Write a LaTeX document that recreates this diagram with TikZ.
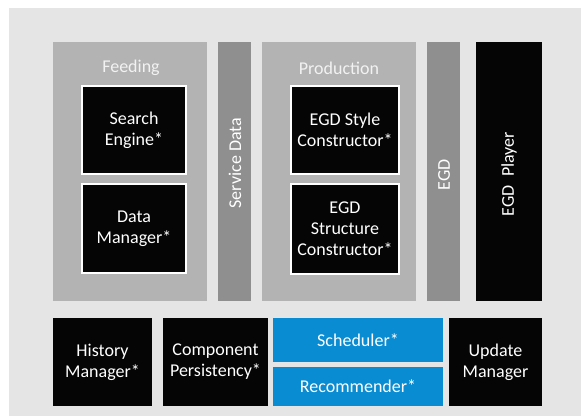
\documentclass[tikz,border=0pt]{standalone}
\usepackage{fontspec}
\setmainfont{Carlito}
\definecolor{bggray}{HTML}{E5E5E5}
\definecolor{boxgray}{HTML}{B3B3B3}
\definecolor{bargray}{HTML}{8F8F8F}
\definecolor{blk}{HTML}{050505}
\definecolor{skyblue}{HTML}{0A8CD2}
\begin{document}
\begin{tikzpicture}[x=1pt, y=-1pt,
  every node/.style={inner sep=0pt, outer sep=0pt, align=center, font=\fontsize{18}{21}\selectfont},
  group/.style={fill=boxgray, minimum width=154, minimum height=259},
  bar/.style={fill=bargray, minimum width=33, minimum height=259},
  inbox/.style={fill=blk, draw=white, line width=1.2pt, text=white},
  blkbox/.style={fill=blk, text=white, minimum height=88},
  bluebox/.style={fill=skyblue, text=white, minimum width=170}]
\useasboundingbox (0,0) rectangle (581,416);
\fill[bggray] (9,8) rectangle (581,416);
\node[group] (feeding) at (130,171.5) {};
\node[text=white!95!black] (feedlbl) at (131,68) {Feeding};
\node[inbox, minimum width=104, minimum height=88] (search) at (134,130) {Search\\Engine*};
\node[inbox, minimum width=104, minimum height=89] (datamgr) at (134,228.5) {Data\\Manager*};
\node[bar] (servbar) at (234.5,171.5) {};
\node[rotate=90, text=white] (servlbl) at (235,163) {Service Data};
\node[group] (production) at (339,171.5) {};
\node[text=white!95!black] (prodlbl) at (339,68) {Production};
\node[inbox, minimum width=108, minimum height=88] (style) at (345,130) {EGD Style\\Constructor*};
\node[inbox, minimum width=108, minimum height=90] (structure) at (345,229) {EGD\\Structure\\Constructor*};
\node[bar] (egdbar) at (443.5,171.5) {};
\node[rotate=90, text=white] (egdlbl) at (444,175) {EGD};
\node[fill=blk, minimum width=66, minimum height=259] (player) at (509,171.5) {};
\node[rotate=90, text=white] (playerlbl) at (509,174) {EGD~ Player};
\node[blkbox, minimum width=99] (history) at (102.5,362) {History\\Manager*};
\node[blkbox, minimum width=105] (persist) at (215.5,362) {Component\\Persistency*};
\node[bluebox, minimum height=44] (scheduler) at (358,340) {Scheduler*};
\node[bluebox, minimum height=39] (recommender) at (358,386.5) {Recommender*};
\node[blkbox, minimum width=93] (update) at (495.5,362) {Update\\Manager};
\end{tikzpicture}
\end{document}
